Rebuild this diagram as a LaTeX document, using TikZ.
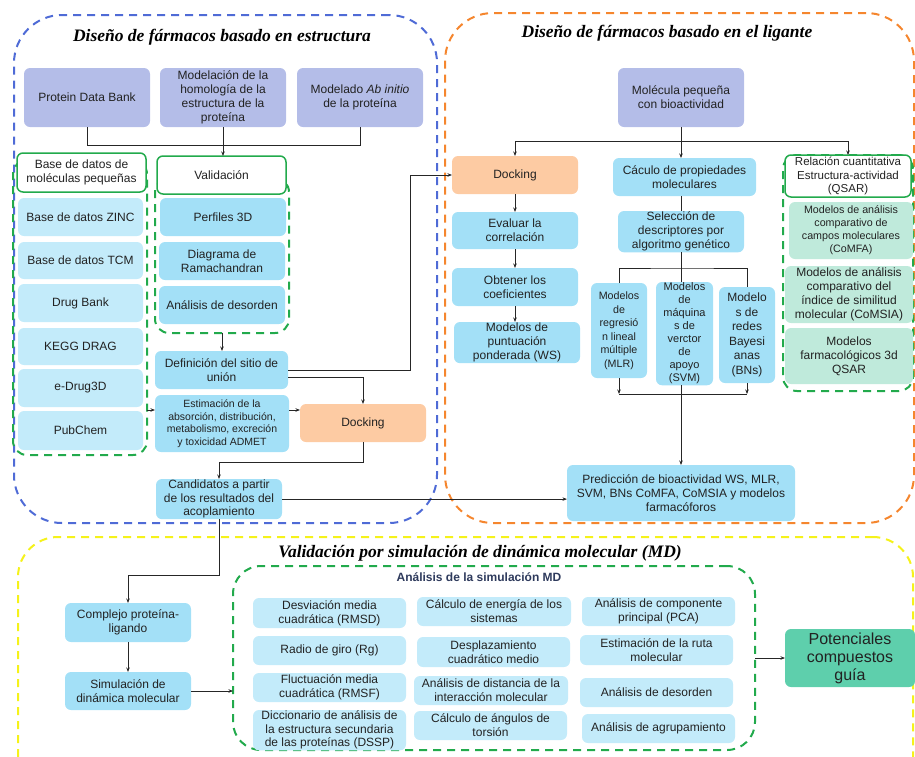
\documentclass[tikz,border=0pt]{standalone}
\usepackage{fontspec}
\setmainfont{Liberation Sans}
\newfontfamily\titlefont{Liberation Serif}
\usetikzlibrary{arrows.meta,calc}
\definecolor{lav}{HTML}{B4BDE8}
\definecolor{lblue}{HTML}{C3EBFA}
\definecolor{mblue}{HTML}{A3E0F7}
\definecolor{orng}{HTML}{FDCBA3}
\definecolor{pgreen}{HTML}{BFEADB}
\definecolor{dgreen}{HTML}{5ECFAC}
\definecolor{gborder}{HTML}{22AA4C}
\definecolor{bdash}{HTML}{4F6BD6}
\definecolor{odash}{HTML}{F5862E}
\definecolor{ydash}{HTML}{F5F21A}
\definecolor{txt}{HTML}{222222}
\definecolor{navy}{HTML}{2E3A5C}
\newcommand\bx[7]{\node[#6, anchor=north west, minimum width={(#4-#2)*1pt}, minimum height={(#5-#3)*1pt}] (#1) at (#2,#3) {#7};}
\newcommand\fs[2]{\fontsize{#1}{#2}\selectfont}
\tikzset{
  box/.style={rounded corners=6pt, align=center, text=txt, font=\fs{12}{14}, inner sep=1pt, outer sep=0pt},
  hdr/.style={box, fill=white, draw=gborder, line width=1.5pt},
  cont/.style={draw=#1, line width=2pt, dash pattern=on 8pt off 6pt, outer sep=0pt, inner sep=0pt},
  ttl/.style={font=\titlefont\bfseries\itshape\fs{17.5}{20}, text=black},
  conn/.style={draw=black!85, line width=0.8pt},
  arr/.style={conn, -{Stealth[length=4.5pt,width=3.5pt]}},
}
\begin{document}
\begin{tikzpicture}[x=1pt,y=-1pt]
\useasboundingbox (0,0) rectangle (915,756);
% containers
\bx{bluec}{14}{15}{437}{523}{cont=bdash, rounded corners=48pt}{}
\bx{orgc}{445}{13}{914}{523}{cont=odash, rounded corners=48pt}{}
\bx{yelc}{18}{537}{913}{800}{cont=ydash, rounded corners=40pt}{}
\bx{mdc}{233}{566}{755}{750}{cont=gborder, rounded corners=28pt}{}
\bx{qc}{783}{155}{913}{391}{cont=gborder, rounded corners=14pt}{}
\bx{bdc}{13}{160}{147}{455}{cont=gborder, rounded corners=14pt}{}
\bx{valc}{155}{178}{289}{333}{cont=gborder, rounded corners=14pt}{}
% titles
\node[ttl] (t1) at (222,37) {Diseño de fármacos basado en estructura};
\node[ttl] (t2) at (667,33) {Diseño de fármacos basado en el ligante};
\node[ttl] (t3) at (480,553) {Validación por simulación de dinámica molecular (MD)};
% structure side
\bx{pdb}{24}{68}{150}{127}{box, fill=lav}{Protein Data Bank}
\bx{hom}{160}{68}{286}{127}{box, fill=lav}{Modelación de la\\homología de la\\estructura de la\\proteína}
\bx{abi}{297}{68}{423}{127}{box, fill=lav}{Modelado \textit{Ab initio}\\de la proteína}
\bx{bdh}{17}{153}{146}{192}{hdr}{Base de datos de\\moléculas pequeñas}
\bx{zinc}{18}{198}{143}{236}{box, fill=lblue}{Base de datos ZINC}
\bx{tcm}{18}{242}{143}{279}{box, fill=lblue}{Base de datos TCM}
\bx{drug}{18}{284}{143}{322}{box, fill=lblue}{Drug Bank}
\bx{kegg}{18}{328}{143}{365}{box, fill=lblue}{KEGG DRAG}
\bx{edrug}{18}{369}{143}{407}{box, fill=lblue}{e-Drug3D}
\bx{pubc}{18}{411}{143}{450}{box, fill=lblue}{PubChem}
\bx{val}{157}{156}{286}{194}{hdr}{Validación}
\bx{perf}{160}{198}{286}{236}{box, fill=mblue}{Perfiles 3D}
\bx{rama}{159}{242}{285}{280}{box, fill=mblue}{Diagrama de\\Ramachandran}
\bx{deso}{159}{286}{285}{324}{box, fill=mblue}{Análisis de desorden}
\bx{def}{155}{351}{288}{389}{box, fill=mblue}{Definición del sitio de\\unión}
\bx{adm}{155}{395}{289}{452}{box, fill=mblue, font=\fs{10.5}{12.5}}{Estimación de la\\absorción, distribución,\\metabolismo, excreción\\y toxicidad ADMET}
\bx{dock1}{300}{404}{426}{442}{box, fill=orng}{Docking}
\bx{cand}{156}{479}{282}{518}{box, fill=mblue, font=\fs{12}{13.5}}{Candidatos a partir\\de los resultados del\\acoplamiento}
% ligand side
\bx{mol}{618}{68}{744}{127}{box, fill=lav}{Molécula pequeña\\con bioactividad}
\bx{dock2}{452}{156}{578}{194}{box, fill=orng}{Docking}
\bx{evl}{452}{212}{578}{249}{box, fill=mblue}{Evaluar la\\correlación}
\bx{obt}{452}{268}{578}{306}{box, fill=mblue}{Obtener los\\coeficientes}
\bx{ws}{454}{322}{580}{361}{box, fill=mblue}{Modelos de\\puntuación\\ponderada (WS)}
\bx{calc}{613}{158}{756}{196}{box, fill=mblue}{Cáculo de propiedades\\moleculares}
\bx{sel}{618}{211}{744}{250}{box, fill=mblue}{Selección de\\descriptores por\\algoritmo genético}
\bx{mlr}{591}{283}{647}{378}{box, fill=mblue, font=\fs{10.7}{13.5}}{Modelos\\de\\regresió\\n lineal\\múltiple\\(MLR)}
\bx{svm}{656}{282}{713}{380}{box, fill=mblue, font=\fs{11}{13}}{Modelos\\de\\máquina\\s de\\verctor\\de\\apoyo\\(SVM)}
\bx{bns}{719}{287}{775}{383}{box, fill=mblue, font=\fs{12}{14.5}}{Modelo\\s de\\redes\\Bayesi\\anas\\(BNs)}
\bx{pred}{567}{465}{795}{521}{box, fill=mblue}{Predicción de bioactividad WS, MLR,\\SVM, BNs CoMFA, CoMSIA y modelos\\farmacóforos}
\bx{qh}{785}{155}{911}{197}{hdr, font=\fs{11.5}{13.5}}{Relación cuantitativa\\Estructura-actividad\\(QSAR)}
\bx{comfa}{789}{202}{913}{259}{box, fill=pgreen, font=\fs{10.7}{13}}{Modelos de análisis\\comparativo de\\campos moleculares\\(CoMFA)}
\bx{comsia}{785}{266}{913}{323}{box, fill=pgreen, font=\fs{12}{14}}{Modelos de análisis\\comparativo del\\índice de similitud\\molecular (CoMSIA)}
\bx{f3d}{785}{328}{913}{384}{box, fill=pgreen}{Modelos\\farmacológicos 3d\\QSAR}
% MD
\node[font=\bfseries\fs{12}{14}, text=navy] (mdt) at (479,577) {Análisis de la simulación MD};
\bx{comp}{65}{603}{191}{642}{box, fill=mblue}{Complejo proteína-\\ligando}
\bx{sim}{65}{672}{191}{710}{box, fill=mblue}{Simulación de\\dinámica molecular}
\bx{rmsd}{253}{598}{406}{628}{box, fill=lblue}{Desviación media\\cuadrática (RMSD)}
\bx{rg}{253}{636}{406}{665}{box, fill=lblue}{Radio de giro (Rg)}
\bx{rmsf}{253}{673}{406}{702}{box, fill=lblue}{Fluctuación media\\cuadrática (RMSF)}
\bx{dssp}{253}{710}{406}{740}{box, fill=lblue, font=\fs{12}{13.5}}{Diccionario de análisis de\\la estructura secundaria\\de las proteínas (DSSP)}
\bx{ener}{417}{597}{571}{626}{box, fill=lblue}{Cálculo de energía de los\\sistemas}
\bx{desp}{417}{637}{570}{667}{box, fill=lblue}{Desplazamiento\\cuadrático medio}
\bx{dist}{414}{676}{568}{705}{box, fill=lblue}{Análisis de distancia de la\\interacción molecular}
\bx{ang}{414}{711}{567}{740}{box, fill=lblue}{Cálculo de ángulos de\\torsión}
\bx{pca}{582}{597}{735}{626}{box, fill=lblue}{Análisis de componente\\principal (PCA)}
\bx{ruta}{580}{635}{733}{665}{box, fill=lblue}{Estimación de la ruta\\molecular}
\bx{deso2}{580}{678}{733}{707}{box, fill=lblue}{Análisis de desorden}
\bx{agr}{582}{714}{735}{743}{box, fill=lblue}{Análisis de agrupamiento}
\bx{pot}{785}{629}{915}{687}{box, fill=dgreen, font=\fs{16}{18}}{Potenciales\\compuestos\\guía}
% connectors, structure side
\coordinate (j1) at (222,145);
\draw[conn] (pdb.south) -- (pdb.south |- j1) -- (abi.south |- j1) -- (abi.south);
\draw[arr] (hom.south) -- (hom.south |- val.north);
\draw[arr] (valc.south) -- (valc.south |- def.north);
\coordinate (y410) at (0,410);
\draw[arr] (bdc.east |- y410) -- (adm.west |- y410);
\draw[arr] (adm.east |- y410) -- (dock1.west |- y410);
\draw[arr] ([yshift=-7pt]def.east) -| (dock1.north);
\coordinate (j2) at (410,370);
\draw[arr] (def.east) -- (j2) |- (dock2.west);
\draw[arr] (dock1.south) -- ++(0,20) -| (cand.north);
\draw[arr] (cand.east) -- (cand.east -| pred.west);
\coordinate (k1) at (128,575);
\draw[arr] (cand.south) |- (k1) -- (comp.north);
% ligand side
\coordinate (l1) at (681,141);
\draw[conn] (mol.south) -- (mol.south |- l1);
\draw[arr] (l1) -| (dock2.north);
\draw[arr] (l1) -| (qc.north);
\draw[arr] (l1) -- (l1 |- calc.north);
\draw[arr] (dock2.south) -- (evl.north);
\draw[arr] (evl.south) -- (obt.north);
\draw[arr] (obt.south) -- (obt.south |- ws.north);
\draw[conn] (sel.north |- calc.south) -- (sel.north);
\coordinate (s1) at (681,268);
\draw[conn] (mlr.north) |- (s1) -| (bns.north);
\draw[conn] (sel.south) -- (sel.south |- svm.north);
\coordinate (y394) at (0,394);
\draw[arr] (mlr.south) -- (mlr.south |- y394);
\draw[arr] (bns.south) -- (bns.south |- y394);
\draw[conn] (mlr.south |- y394) -- (bns.south |- y394);
\draw[arr] (sel.south |- svm.south) -- (sel.south |- pred.north);
% MD
\draw[arr] (comp.south) -- (sim.north);
\draw[arr] (sim.east) -- (sim.east -| mdc.west);
\draw[arr] (mdc.east |- pot.west) -- (pot.west);
\end{tikzpicture}
\end{document}
